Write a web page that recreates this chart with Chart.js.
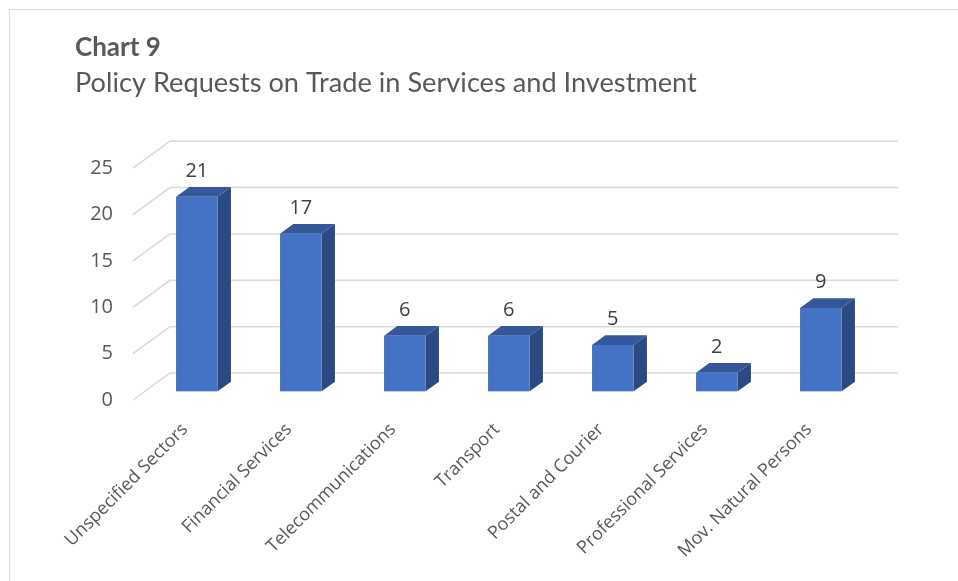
<!DOCTYPE html>
<html>
<head>
<meta charset="utf-8">
<script src="https://cdn.jsdelivr.net/npm/chart.js@4/dist/chart.umd.min.js"></script>
<style>
  html, body { margin: 0; padding: 0; background: #ffffff; }
  #wrap { width: 958px; height: 581px; position: relative; }
</style>
</head>
<body>
<div id="wrap"><canvas id="c" width="958" height="581"></canvas></div>
<script>
// ---- data ----
const chartTitle = 'Chart 9';
const chartSubtitle = 'Policy Requests on Trade in Services and Investment';
const categories = [
  'Unspecified Sectors',
  'Financial Services',
  'Telecommunications',
  'Transport',
  'Postal and Courier',
  'Professional Services',
  'Mov. Natural Persons'
];
const requests = [21, 17, 6, 6, 5, 2, 9];
const yTickValues = [0, 5, 10, 15, 20, 25];

// ---- 3D look ----
const DEPTH_X = 37, DEPTH_Y = 27;
const BAR_FRONT = 0.32, BAR_BACK = 0.68;
const FRONT_COLOR = '#4472C4', SIDE_COLOR = '#2C4A82', TOP_COLOR = '#33579A';
const GRID_COLOR = '#d9d9d9';
const AXIS_FONT = 'Open Sans';

const threeD = {
  id: 'threeD',
  beforeDraw(chart) {
    const ctx = chart.ctx;
    ctx.save();
    ctx.fillStyle = '#ffffff';
    ctx.fillRect(0, 0, chart.width, chart.height);
    ctx.strokeStyle = '#d9d9d9';
    ctx.lineWidth = 1;
    ctx.beginPath();
    ctx.moveTo(9.5, chart.height);
    ctx.lineTo(9.5, 9.5);
    ctx.lineTo(chart.width, 9.5);
    ctx.stroke();
    ctx.restore();
  },
  beforeDatasetsDraw(chart) {
    const { ctx, chartArea: a, scales: { y } } = chart;
    ctx.save();
    ctx.strokeStyle = GRID_COLOR;
    ctx.lineWidth = 1.5;
    y.ticks.forEach(t => {
      const py = y.getPixelForValue(t.value);
      ctx.beginPath();
      ctx.moveTo(a.left, py);
      ctx.lineTo(a.left + DEPTH_X, py - DEPTH_Y);
      ctx.lineTo(a.right + DEPTH_X, py - DEPTH_Y);
      ctx.stroke();
    });
    ctx.restore();
  },
  afterDatasetsDraw(chart) {
    const ctx = chart.ctx;
    const meta = chart.getDatasetMeta(0);
    const data = chart.data.datasets[0].data;
    const fx = DEPTH_X * BAR_FRONT, fy = DEPTH_Y * BAR_FRONT;
    const sx = DEPTH_X * (BAR_BACK - BAR_FRONT), sy = DEPTH_Y * (BAR_BACK - BAR_FRONT);
    ctx.save();
    meta.data.forEach((el, i) => {
      const p = el.getProps(['x', 'y', 'base', 'width'], true);
      const x0 = p.x - p.width / 2 + fx, x1 = p.x + p.width / 2 + fx;
      const yt = p.y - fy, yb = p.base - fy;
      ctx.fillStyle = SIDE_COLOR;
      ctx.beginPath();
      ctx.moveTo(x1, yb); ctx.lineTo(x1 + sx, yb - sy); ctx.lineTo(x1 + sx, yt - sy); ctx.lineTo(x1, yt);
      ctx.closePath(); ctx.fill();
      ctx.fillStyle = TOP_COLOR;
      ctx.beginPath();
      ctx.moveTo(x0, yt); ctx.lineTo(x0 + sx, yt - sy); ctx.lineTo(x1 + sx, yt - sy); ctx.lineTo(x1, yt);
      ctx.closePath(); ctx.fill();
      ctx.fillStyle = FRONT_COLOR;
      ctx.fillRect(x0, yt, x1 - x0, yb - yt);
      ctx.fillStyle = '#404040';
      ctx.font = '20px "' + AXIS_FONT + '"';
      ctx.textAlign = 'center';
      ctx.textBaseline = 'middle';
      ctx.fillText(String(data[i]), (x0 + x1) / 2, yt - sy - 16);
    });
    ctx.restore();
  }
};

function build() {
  new Chart(document.getElementById('c'), {
    type: 'bar',
    data: {
      labels: categories,
      datasets: [{
        data: requests,
        backgroundColor: 'rgba(0,0,0,0)',
        borderWidth: 0,
        barPercentage: 0.4,
        categoryPercentage: 1.0
      }]
    },
    options: {
      responsive: false,
      animation: false,
      events: [],
      layout: { padding: { left: 75, right: 97, top: 0, bottom: 0 } },
      plugins: {
        legend: { display: false },
        tooltip: { enabled: false },
        title: {
          display: true, text: chartTitle, align: 'start', color: '#595959',
          font: { family: 'Lato', size: 26, weight: 'bold', lineHeight: 1 },
          padding: { top: 35, bottom: 0 }
        },
        subtitle: {
          display: true, text: chartSubtitle, align: 'start', color: '#595959',
          font: { family: 'Lato', size: 27.2, weight: 'normal', lineHeight: 1 },
          padding: { top: 9, bottom: 71 }
        }
      },
      scales: {
        x: {
          grid: { display: false, drawTicks: false },
          border: { display: false },
          ticks: {
            autoSkip: false, maxRotation: 45, minRotation: 45, padding: 19,
            color: '#595959', font: { family: AXIS_FONT, size: 18 }
          },
          afterFit(scale) { scale.height = 181; }
        },
        y: {
          min: 0, max: 25,
          afterBuildTicks(scale) { scale.ticks = yTickValues.map(v => ({ value: v })); },
          grid: { display: false, drawTicks: false },
          border: { display: false },
          ticks: { padding: 20, color: '#595959', font: { family: AXIS_FONT, size: 20 } },
          afterFit(scale) { scale.width = 58; }
        }
      }
    },
    plugins: [threeD]
  });
}

Promise.all([
  document.fonts.load('18px "Open Sans"'),
  document.fonts.load('20px "Open Sans"'),
  document.fonts.load('bold 26px "Lato"'),
  document.fonts.load('27px "Lato"')
]).then(build, build);
</script>
</body>
</html>
